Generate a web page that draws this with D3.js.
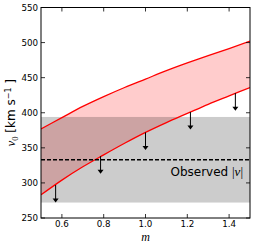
<!DOCTYPE html>
<html><head><meta charset="utf-8">
<script src="https://cdn.jsdelivr.net/npm/d3@7"></script>
<style>html,body{margin:0;padding:0;background:#fff;}svg{display:block;}</style>
</head><body>
<script>
const mGrid = [0.5, 0.6, 0.7, 0.8, 0.9, 1.0, 1.1, 1.2, 1.3, 1.4, 1.5];
const upperV = [377, 393, 409, 423, 436, 448, 460, 471, 481.5, 491.5, 502];
const lowerV = [283, 304, 323, 340, 356.5, 372, 386, 399, 412, 424, 436];
const arrowM = [0.57, 0.785, 1.0, 1.215, 1.43];
const arrowTop = [297, 338, 372, 401, 428];
const arrowBottom = [272, 313, 347, 376, 403];
const observedV = 333;
const bandLow = 272, bandHigh = 394;
const xTicks = [0.6, 0.8, 1.0, 1.2, 1.4];
const yTicks = [250, 300, 350, 400, 450, 500, 550];

const W = 255, H = 249;
const L = 41, R = 250, T = 7.5, B = 218;
const svg = d3.select("body").append("svg").attr("width", W).attr("height", H);
const x = d3.scaleLinear().domain([0.5, 1.5]).range([L, R]);
const y = d3.scaleLinear().domain([250, 550]).range([B, T]);

const defs = svg.append("defs");
defs.append("clipPath").attr("id", "clip").append("rect")
  .attr("x", L).attr("y", T).attr("width", R - L).attr("height", B - T);
const g = svg.append("g").attr("clip-path", "url(#clip)");

const pts = mGrid.map((m, i) => ({m, lo: lowerV[i], hi: upperV[i]}));
g.append("path").datum(pts)
  .attr("d", d3.area().curve(d3.curveMonotoneX).x(d => x(d.m)).y0(d => y(d.lo)).y1(d => y(d.hi)))
  .attr("fill", "rgb(255,204,204)");

g.append("rect").attr("x", L).attr("width", R - L)
  .attr("y", y(bandHigh)).attr("height", y(bandLow) - y(bandHigh))
  .attr("fill", "#000").attr("fill-opacity", 0.2);

const line = key => d3.line().curve(d3.curveMonotoneX).x(d => x(d.m)).y(d => y(d[key]));
g.append("path").datum(pts).attr("d", line("hi")).attr("fill", "none").attr("stroke", "#ff0000").attr("stroke-width", 1.3);
g.append("path").datum(pts).attr("d", line("lo")).attr("fill", "none").attr("stroke", "#ff0000").attr("stroke-width", 1.3);

g.append("line").attr("x1", L).attr("x2", R).attr("y1", y(observedV)).attr("y2", y(observedV))
  .attr("stroke", "#000").attr("stroke-width", 1.3).attr("stroke-dasharray", "4,2");

arrowM.forEach((m, i) => {
  const ax = x(m), yt = y(arrowTop[i]), yb = y(arrowBottom[i]);
  g.append("line").attr("x1", ax).attr("x2", ax).attr("y1", yt).attr("y2", yb - 3)
    .attr("stroke", "#000").attr("stroke-width", 1);
  g.append("path").attr("d", `M${ax - 3},${yb - 4}L${ax + 3},${yb - 4}L${ax},${yb}Z`).attr("fill", "#000");
});

// text
svg.append("text").attr("x", 243).attr("y", 176).attr("text-anchor", "end")
  .attr("font-family", "DejaVu Sans").attr("font-size", 12).attr("fill", "#000")
  .html('Observed <tspan font-family="Liberation Serif" font-size="13">|</tspan><tspan font-family="Liberation Serif" font-style="italic" font-size="13">v</tspan><tspan font-family="Liberation Serif" font-size="13">|</tspan>');

// axes frame
svg.append("rect").attr("x", L).attr("y", T).attr("width", R - L).attr("height", B - T)
  .attr("fill", "none").attr("stroke", "#000").attr("stroke-width", 1);

const tickFont = "DejaVu Sans", tickSize = 8.7;
const ax = svg.append("g");
xTicks.forEach(t => {
  const px = x(t);
  ax.append("line").attr("x1", px).attr("x2", px).attr("y1", B).attr("y2", B - 4).attr("stroke", "#000").attr("stroke-width", 0.8);
  ax.append("line").attr("x1", px).attr("x2", px).attr("y1", T).attr("y2", T + 4).attr("stroke", "#000").attr("stroke-width", 0.8);
  ax.append("text").attr("x", px).attr("y", 227.3).attr("text-anchor", "middle")
    .attr("font-family", tickFont).attr("font-size", tickSize).text(d3.format(".1f")(t));
});
yTicks.forEach(t => {
  const py = y(t);
  ax.append("line").attr("x1", L).attr("x2", L + 4).attr("y1", py).attr("y2", py).attr("stroke", "#000").attr("stroke-width", 0.8);
  ax.append("line").attr("x1", R).attr("x2", R - 4).attr("y1", py).attr("y2", py).attr("stroke", "#000").attr("stroke-width", 0.8);
  ax.append("text").attr("x", 38).attr("y", py + 3).attr("text-anchor", "end")
    .attr("font-family", tickFont).attr("font-size", tickSize).text(t);
});

svg.append("text").attr("x", x(1.0)).attr("y", 241).attr("text-anchor", "middle")
  .attr("font-family", "Liberation Serif").attr("font-style", "italic").attr("font-size", 12).text("m");

svg.append("text").attr("transform", `translate(15,${(T + B) / 2}) rotate(-90)`).attr("text-anchor", "middle")
  .attr("font-family", "DejaVu Sans").attr("font-size", 12)
  .html('<tspan font-family="Liberation Serif" font-style="italic" font-size="13">v</tspan><tspan font-family="Liberation Serif" font-size="8.5" dy="2.5">0</tspan><tspan dy="-2.5"> [km s</tspan><tspan font-size="8" dy="-4.5">−1</tspan><tspan dy="4.5"> ]</tspan>');
</script>
</body></html>
